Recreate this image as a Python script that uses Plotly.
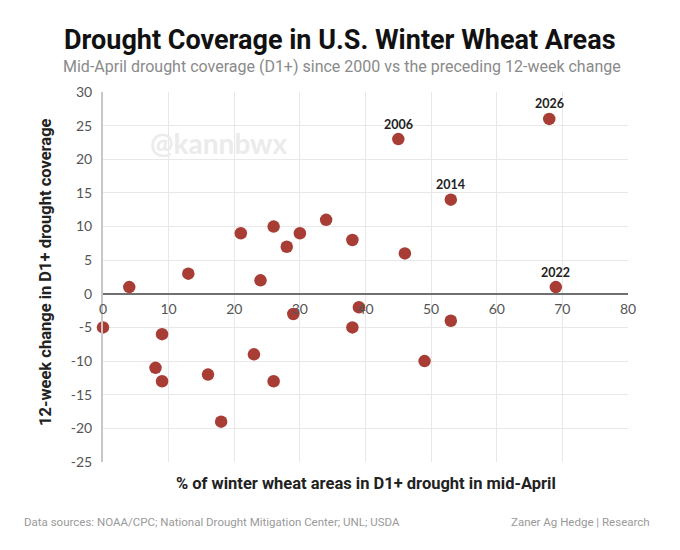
import plotly.graph_objects as go

# Mid-April D1+ coverage (%) vs the preceding 12-week change (pct points)
coverage = [0, 4, 13, 21, 24, 26, 28, 30, 34, 38, 45, 46, 53, 68, 69,
            39, 29, 38, 53, 49, 9, 8, 9, 16, 18, 23, 26]
change = [-5, 1, 3, 9, 2, 10, 7, 9, 11, 8, 23, 6, 14, 26, 1,
          -2, -3, -5, -4, -10, -6, -11, -13, -12, -19, -9, -13]

label_years = ["2006", "2014", "2026", "2022"]
label_x = [45, 53, 68, 69]
label_y = [23, 14, 26, 1]

y_ticks = [-25, -20, -15, -10, -5, 0, 5, 10, 15, 20, 25, 30]
y_ticktext = ["-25", "-20", "-15", "-10", "-5", "0", "5", "10", "15", "20", "25", "30"]

fig = go.Figure()
fig.add_trace(go.Scatter(
    x=coverage, y=change, mode='markers',
    marker=dict(size=12.5, color='#a83d35'),
    cliponaxis=False, showlegend=False, hoverinfo='x+y'
))

# page has an 8px body margin, so the figure is drawn offset by 8px
OFF = 8
W, H = 680, 550
L, R, T, B = 103 - OFF, 52 + OFF, 92 - OFF, 88 + OFF
pw, ph = W - L - R, H - T - B


def px_x(x):
    return (x - OFF - L) / pw


def px_y(y):
    return (H - B - (y - OFF)) / ph


annotations = []
for yr, lx, ly in zip(label_years, label_x, label_y):
    annotations.append(dict(
        text=yr, x=lx, y=ly, xref='x', yref='y', showarrow=False,
        yshift=15, xanchor='center', yanchor='middle',
        font=dict(family='Lato', size=12.5, color='#222222', weight='bold')))

annotations += [
    dict(text='Drought Coverage in U.S. Winter Wheat Areas', x=px_x(340), y=px_y(40),
         font=dict(family='Roboto', size=27, color='#111111', weight='bold')),
    dict(text='Mid-April drought coverage (D1+) since 2000 vs the preceding 12-week change',
         x=px_x(342), y=px_y(66),
         font=dict(family='Roboto', size=16, color='#8a8a8a')),
    dict(text='12-week change in D1+ drought coverage', x=px_x(45), y=px_y(272),
         textangle=-90,
         font=dict(family='Roboto', size=16.5, color='#222222', weight='bold')),
    dict(text='% of winter wheat areas in D1+ drought in mid-April', x=0.5, y=px_y(483),
         font=dict(family='Roboto', size=16.5, color='#222222', weight='bold')),
    dict(text='Data sources: NOAA/CPC; National Drought Mitigation Center; UNL; USDA',
         x=px_x(22), y=px_y(522), xanchor='left',
         font=dict(family='Roboto', size=11.5, color='#9a9a9a')),
    dict(text='Zaner Ag Hedge | Research', x=px_x(652), y=px_y(522), xanchor='right',
         font=dict(family='Roboto', size=11.5, color='#9a9a9a')),
]
for a in annotations[len(label_years):]:
    a.setdefault('xanchor', 'center')
    a.update(xref='paper', yref='paper', showarrow=False, yanchor='middle')

annotations.append(dict(
    text='@kannbwx', x=17.7, y=22.4, xref='x', yref='y', showarrow=False,
    xanchor='center', yanchor='middle',
    font=dict(family='Lato', size=28, color='#ebebeb', weight='bold')))

fig.update_layout(
    width=W, height=H,
    margin=dict(l=L, r=R, t=T, b=B),
    paper_bgcolor='white', plot_bgcolor='white',
    font=dict(family='Lato', color='#444444'),
    xaxis=dict(
        range=[0, 80], dtick=10, showgrid=True, gridcolor='#e8e8e8',
        zeroline=False, anchor='free', position=25 / 55,
        showline=False, tickfont=dict(size=14, color='#555555'),
        ticks='', ticklabelstandoff=5,
    ),
    yaxis=dict(
        range=[-25, 30], tickvals=y_ticks, ticktext=y_ticktext,
        showgrid=True, gridcolor='#e8e8e8',
        zeroline=True, zerolinecolor='#707070', zerolinewidth=1.5,
        showline=True, linecolor='#c8c8c8', linewidth=2,
        tickfont=dict(size=14, color='#555555'), ticks='',
        ticklabelstandoff=6,
    ),
    annotations=annotations,
)

fig.write_html("out.html")
